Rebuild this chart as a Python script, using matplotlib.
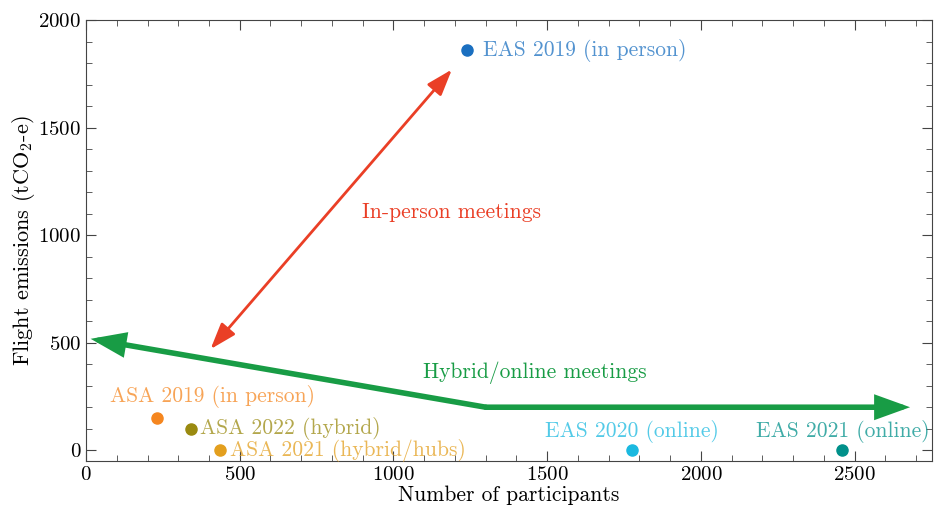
import matplotlib
matplotlib.use("Agg")
import matplotlib.pyplot as plt
from matplotlib.ticker import MultipleLocator

plt.rcParams["font.family"] = ["cmr10"]
plt.rcParams["mathtext.fontset"] = "cm"
plt.rcParams["axes.formatter.use_mathtext"] = True

# meetings: name, participants, emissions
names = ["EAS 2019 (in person)", "ASA 2019 (in person)", "ASA 2022 (hybrid)",
         "ASA 2021 (hybrid/hubs)", "EAS 2020 (online)", "EAS 2021 (online)"]
participants = [1240, 230, 340, 435, 1775, 2460]
emissions = [1860, 150, 100, 0, 0, 0]
colors = ["#1a6fc0", "#f5861f", "#9a8a10", "#e39f1e", "#1ab9e0", "#00908a"]

# label positions (data coords) and alignment
label_x = [1290, 412, 370, 468, 1775, 2460]
label_y = [1860, 250, 100, 0, 85, 85]
label_ha = ["left", "center", "left", "left", "center", "center"]

# arrows
red_start = (405, 470)
red_end = (1190, 1770)
green_corner = (1300, 200)
green_left = (15, 518)
green_right = (2680, 200)

fig = plt.figure(figsize=(9.41, 5.09), dpi=100)
ax = fig.add_axes([0.0914, 0.0943, 0.8986, 0.8664])

for x, y, c in zip(participants, emissions, colors):
    ax.plot(x, y, "o", color=c, markersize=8, zorder=3)

fs = 15.5
for name, x, y, ha, c in zip(names, label_x, label_y, label_ha, colors):
    ax.text(x, y, name, color=c, alpha=0.75, fontsize=fs, ha=ha, va="center")

red = "#ea3f26"
green = "#189c45"
ax.annotate("", xy=red_end, xytext=red_start,
            arrowprops=dict(arrowstyle="<|-|>,head_length=1.6,head_width=0.55",
                            color=red, lw=2, shrinkA=0, shrinkB=0))
ax.text(1190, 1105, "In-person meetings", color=red, fontsize=fs,
        ha="center", va="center")

ax.annotate("", xy=green_left, xytext=green_corner,
            arrowprops=dict(arrowstyle="-|>,head_length=1.8,head_width=0.65",
                            color=green, lw=4, shrinkA=0, shrinkB=0,
                            joinstyle="miter"))
ax.annotate("", xy=green_right, xytext=green_corner,
            arrowprops=dict(arrowstyle="-|>,head_length=1.8,head_width=0.65",
                            color=green, lw=4, shrinkA=0, shrinkB=0,
                            joinstyle="miter"))
ax.text(1460, 360, "Hybrid/online meetings", color=green, fontsize=fs,
        ha="center", va="center")

ax.set_xlim(0, 2750)
ax.set_ylim(-50, 2000)
ax.xaxis.set_major_locator(MultipleLocator(500))
ax.xaxis.set_minor_locator(MultipleLocator(100))
ax.yaxis.set_major_locator(MultipleLocator(500))
ax.yaxis.set_minor_locator(MultipleLocator(100))
ax.tick_params(which="both", direction="in", top=True, right=True,
               color="#444444", labelsize=15)
ax.tick_params(which="major", length=7)
ax.tick_params(which="minor", length=4)
for s in ax.spines.values():
    s.set_color("#444444")

ax.set_xlabel("Number of participants", fontsize=fs, labelpad=1)
ax.set_ylabel(r"Flight emissions (tCO$_2$-e)", fontsize=16, labelpad=1)

fig.savefig("out.png", dpi=100)
